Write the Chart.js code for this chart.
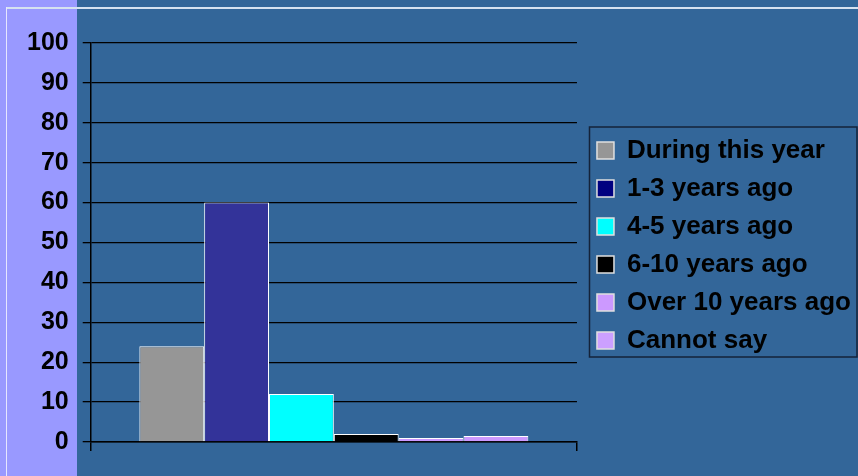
<!DOCTYPE html>
<html>
<head>
<meta charset="utf-8">
<script src="https://cdn.jsdelivr.net/npm/chart.js@4/dist/chart.umd.min.js"></script>
<style>
html,body{margin:0;padding:0;background:#336699;}
#wrap{width:858px;height:476px;position:relative;}
</style>
</head>
<body>
<div id="wrap"><canvas id="c" width="858" height="476"></canvas></div>
<script>
// data
const CATS=[''];
const SERIES=['During this year','1-3 years ago','4-5 years ago','6-10 years ago','Over 10 years ago','Cannot say'];
const VALUES=[24,60,12,2,1,1.5];
const BAR_CLR=['#969696','#333399','#00FFFF','#000000','#CC99FF','#CC99FF'];
const KEY_CLR=['#969696','#000080','#00FFFF','#000000','#CC99FF','#CCA0FF'];
const Y_TICKS=[0,10,20,30,40,50,60,70,80,90,100];

const FONT='"Liberation Sans", Arial, sans-serif';

// slide background: lilac strip on the left, blue body, thin frame line
const slideBg={id:'slideBg',beforeDraw(ch){
  const c=ch.ctx,W=ch.width,H=ch.height;
  c.save();
  c.fillStyle='#336699';c.fillRect(0,0,W,H);
  c.fillStyle='#9999FF';c.fillRect(0,0,77,H);
  c.fillStyle='#D6E2F0';c.fillRect(6,7,W-6,2);
  c.fillStyle='#E6E6FF';c.fillRect(6,7,1,H-7);
  c.restore();
}};
// nudge legend a bit away from the plot, then frame it
const keyFrame={id:'keyFrame',
  afterLayout(ch){const lg=ch.legend;lg.left+=8;lg.right+=8;lg.top+=3;lg.bottom+=3;},
  afterDraw(ch){
    const lg=ch.legend;if(!lg||!lg.legendHitBoxes.length)return;
    const hb=lg.legendHitBoxes;
    const top=Math.min(...hb.map(h=>h.top)), bot=Math.max(...hb.map(h=>h.top+h.height));
    const c=ch.ctx;c.save();
    c.strokeStyle='#14233a';c.lineWidth=1.5;
    c.strokeRect(589.5,top-10.5,ch.width-589-1.5,bot-top+14);
    c.restore();
  }};

new Chart(document.getElementById('c'),{
  type:'bar',
  data:{labels:CATS,datasets:SERIES.map((s,i)=>({label:s,data:[VALUES[i]],backgroundColor:BAR_CLR[i],borderColor:'#FFFFFF',borderWidth:1,borderSkipped:'bottom'}))},
  options:{
    responsive:false,animation:false,
    layout:{padding:{left:13,top:43,right:5,bottom:25}},
    datasets:{bar:{categoryPercentage:0.8,barPercentage:1.0}},
    plugins:{
      tooltip:{enabled:false},
      legend:{position:'right',align:'center',fullSize:false,maxWidth:300,
        labels:{color:'#000',font:{family:FONT,size:26,weight:'bold'},boxWidth:17,boxHeight:17,padding:12,
          generateLabels:ch=>SERIES.map((s,i)=>({text:s,fillStyle:KEY_CLR[i],strokeStyle:'#E0E0E0',lineWidth:1.5,datasetIndex:i,hidden:false}))}}
    },
    scales:{
      x:{offset:true,grid:{display:true,drawOnChartArea:false,drawTicks:true,tickLength:9,color:'#000',lineWidth:1.5},
        border:{display:true,color:'#000',width:1.5},ticks:{display:false}},
      y:{min:0,max:100,afterBuildTicks:ax=>{ax.ticks=Y_TICKS.map(v=>({value:v}));},
        grid:{color:'#000',lineWidth:1.3,tickLength:8},
        border:{display:true,color:'#000',width:1.5},
        ticks:{color:'#000',padding:14,font:{family:FONT,size:25,weight:'bold'}}}
    }
  },
  plugins:[slideBg,keyFrame]
});
</script>
</body>
</html>
